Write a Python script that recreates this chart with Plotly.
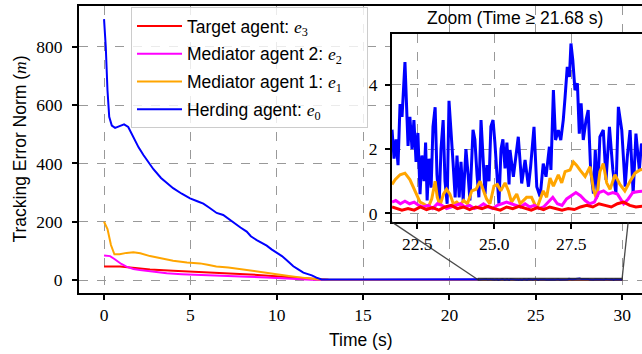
import plotly.graph_objects as go

# ---------------- data ----------------
# early phase (0 .. 21 s), coarse samples
t_herd_early = [0, 0.1, 0.2, 0.3, 0.45, 0.64, 0.9, 1.16, 1.4, 1.7, 2.0, 2.28, 2.6, 2.86, 3.3, 3.7, 4.0, 4.5,
                4.98, 5.4, 5.75, 6.1, 6.52, 6.9, 7.2, 7.49, 7.9, 8.26, 8.5, 8.84, 9.1, 9.42, 9.7, 10.0, 10.3,
                10.58, 10.96, 11.2, 11.54, 12.03, 12.3, 12.6, 13, 14, 15, 16, 17, 18, 19, 20, 21]
e0_early = [895, 800, 650, 560, 530, 522, 528, 534, 525, 490, 455, 429, 400, 380, 350, 330, 315, 296,
            280, 270, 262, 248, 230, 223, 210, 195, 180, 166, 150, 137, 128, 118, 105, 94, 82,
            68, 47, 38, 25, 16, 8, 2, 1.5, 2, 1.8, 2.2, 1.6, 2.5, 1.8, 2.0, 1.7]

t_med1_early = [0, 0.2, 0.4, 0.6, 0.9, 1.3, 1.7, 2.1, 2.66, 3.3, 4.0, 4.8, 5.56, 6.0, 6.5, 7.2, 7.87, 8.5,
                9.2, 10.0, 10.7, 11.35, 11.9, 12.3, 13, 15, 17, 19, 21]
e1_early = [200, 175, 120, 88, 88, 93, 95, 92, 82, 74, 66, 60, 57, 52, 46, 43, 37, 33,
            27, 20, 14, 9, 5, 2.5, 1.0, 0.9, 1.0, 0.8, 0.9]

t_med2_early = [0, 0.35, 0.6, 1.0, 1.3, 1.7, 2.08, 2.8, 3.63, 4.5, 5.56, 7, 8.3, 9.4, 10.4, 11.35, 12, 13,
                16, 19, 21]
e2_early = [84, 82, 72, 55, 46, 38, 34, 28, 23, 20, 17, 14, 11, 9, 5, 1.5, 0.5, 0.4, 0.35, 0.3, 0.35]

t_targ_early = [0, 0.93, 1.8, 2.66, 4.0, 5.56, 7.0, 8.45, 9.5, 10.4, 11.3, 12.3, 13, 16, 19, 21]
e3_early = [46, 46, 41, 36, 32, 28, 23, 19, 15, 11, 7, 2, 0.5, 0.2, 0.15, 0.2]

# late phase (zoom window, 21.68 .. 30 s)
t_herd_zoom = [21.68, 21.745, 21.81, 21.875, 21.94, 22.005, 22.10, 22.15, 22.20, 22.26, 22.33, 22.39, 22.46,
               22.52, 22.59, 22.65, 22.72, 22.77, 22.82, 22.88, 22.95, 23.01, 23.08, 23.14, 23.21, 23.27,
               23.34, 23.40, 23.47, 23.53, 23.60, 23.66, 23.73, 23.79, 23.86, 23.92, 23.99, 24.08, 24.15,
               24.21, 24.31, 24.37, 24.44, 24.50, 24.57, 24.63, 24.70, 24.76, 24.83, 24.89, 24.96, 25.02,
               25.09, 25.15, 25.22, 25.28, 25.35, 25.41, 25.48, 25.51, 25.62, 25.78, 25.89, 26.00, 26.11,
               26.18, 26.29, 26.38, 26.49, 26.59, 26.68, 26.79, 26.84, 26.92, 26.99, 27.08, 27.16, 27.24,
               27.30, 27.37, 27.44, 27.49, 27.55, 27.62, 27.70, 27.76, 27.82, 27.89, 27.98, 28.05, 28.13,
               28.22, 28.28, 28.35, 28.43, 28.54, 28.63, 28.74, 28.85, 28.95, 29.03, 29.14, 29.25, 29.32,
               29.41, 29.51, 29.60, 29.71, 29.78, 29.9, 30.0]
e0_zoom = [2.6, 1.7, 2.3, 1.5, 3.4, 3.0, 4.7, 3.2, 2.1, 3.0, 2.0, 2.9, 1.6,
           2.5, 0.6, 1.8, 1.0, 2.2, 0.4, 1.7, 0.8, 2.7, 3.3, 1.2, 0.3, 2.0,
           2.9, 1.0, 0.3, 3.5, 2.6, 1.6, 0.5, 1.8, 0.5, 1.6, 0.4, 2.0, 1.2,
           0.4, 2.6, 2.3, 1.2, 0.5, 2.9, 1.7, 0.6, 1.5, 1.0, 2.7, 2.9, 2.2,
           1.0, 0.3, 2.0, 2.3, 1.4, 2.2, 0.9, 1.97, 1.14, 2.38, 0.93, 1.66, 0.83,
           1.45, 2.69, 0.83, 0.52, 1.55, 1.14, 2.07, 1.35, 3.83, 2.28, 2.59, 2.28, 2.9,
           3.62, 4.55, 4.24, 5.28, 4.76, 3.83, 4.04, 2.48, 3.42, 2.28, 2.9, 3.21, 1.35,
           0.62, 1.97, 0.52, 2.38, 2.59, 1.04, 2.69, 1.35, 0.62, 3.31, 2.59, 0.83, 1.76,
           2.59, 0.62, 2.48, 1.35, 2.17, 1.5, 1.0]

t_med1_zoom = [21.68, 21.78, 21.94, 22.10, 22.26, 22.37, 22.48, 22.59, 22.70, 22.86, 22.97, 23.08, 23.15,
               23.24, 23.35, 23.45, 23.56, 23.67, 23.78, 23.89, 24.00, 24.13, 24.27, 24.41, 24.54, 24.64,
               24.75, 24.86, 24.99, 25.10, 25.21, 25.35, 25.46, 25.56, 25.73, 25.84, 26.05, 26.21, 26.38,
               26.59, 26.70, 26.81, 26.92, 27.08, 27.19, 27.30, 27.46, 27.57, 27.67, 27.78, 27.95, 28.11,
               28.22, 28.32, 28.43, 28.54, 28.65, 28.76, 28.92, 29.08, 29.24, 29.41, 29.57, 29.73, 30.0]
e1_zoom = [0.9, 1.05, 1.2, 1.25, 1.05, 0.8, 0.55, 0.35, 0.3, 0.2, 0.45, 1.0, 0.5,
           0.25, 0.6, 0.75, 0.6, 0.3, 0.35, 0.25, 0.4, 0.3, 0.7, 0.75, 1.0, 0.75,
           0.45, 0.3, 0.85, 0.9, 0.7, 0.95, 0.7, 0.35, 0.6, 0.3, 0.5, 0.5, 0.15,
           0.7, 0.5, 1.1, 0.85, 1.2, 0.95, 1.3, 1.35, 1.6, 1.5, 1.35, 1.15, 1.45,
           0.75, 0.45, 1.3, 1.55, 0.95, 0.75, 1.2, 0.9, 0.7, 1.0, 1.25, 1.35, 1.4]

t_med2_zoom = [21.68, 21.8, 21.95, 22.1, 22.25, 22.4, 22.55, 22.7, 22.85, 23.0, 23.15, 23.3, 23.45, 23.6,
               23.75, 23.9, 24.05, 24.2, 24.35, 24.5, 24.65, 24.8, 24.95, 25.1, 25.25, 25.4, 25.55, 25.7,
               25.85, 26.0, 26.15, 26.3, 26.45, 26.6, 26.75, 26.9, 27.05, 27.2, 27.35, 27.5, 27.65, 27.8,
               27.95, 28.1, 28.25, 28.4, 28.55, 28.7, 28.85, 29.0, 29.1, 29.2, 29.35, 29.5, 29.7, 30.0]
e2_zoom = [0.35, 0.4, 0.3, 0.38, 0.3, 0.35, 0.25, 0.2, 0.25, 0.15, 0.3, 0.25, 0.15, 0.2,
           0.25, 0.3, 0.2, 0.25, 0.15, 0.2, 0.3, 0.2, 0.15, 0.25, 0.3, 0.35, 0.3, 0.25,
           0.2, 0.3, 0.2, 0.25, 0.15, 0.2, 0.35, 0.5, 0.3, 0.25, 0.45, 0.55, 0.65, 0.55,
           0.4, 0.3, 0.35, 0.65, 0.7, 0.6, 0.65, 0.6, 0.45, 0.3, 0.45, 0.65, 0.68, 0.7]

t_targ_zoom = [21.68, 21.85, 22.0, 22.2, 22.4, 22.6, 22.8, 23.0, 23.2, 23.4, 23.6, 23.8, 24.0, 24.2, 24.4,
               24.6, 24.8, 25.0, 25.2, 25.4, 25.6, 25.8, 26.0, 26.2, 26.4, 26.6, 26.8, 27.0, 27.2, 27.4,
               27.6, 27.8, 28.0, 28.2, 28.4, 28.6, 28.8, 29.0, 29.2, 29.4, 29.6, 29.8, 30.0]
e3_zoom = [0.2, 0.15, 0.1, 0.15, 0.1, 0.2, 0.12, 0.18, 0.1, 0.2, 0.25, 0.15, 0.2, 0.12, 0.2,
           0.15, 0.22, 0.15, 0.1, 0.2, 0.15, 0.22, 0.15, 0.1, 0.18, 0.12, 0.2, 0.15, 0.1, 0.15,
           0.12, 0.2, 0.25, 0.2, 0.3, 0.25, 0.2, 0.3, 0.35, 0.25, 0.2, 0.22, 0.2]

names = ["Target agent: ", "Mediator agent 2: ", "Mediator agent 1: ", "Herding agent: "]
subs = ["3", "2", "1", "0"]
colors = ["#ff0000", "#ff00ff", "#ffa500", "#0000ff"]
zoom_start = 21.68
zoom_end = 30.0

series = [
    (t_targ_early, e3_early, t_targ_zoom, e3_zoom),
    (t_med2_early, e2_early, t_med2_zoom, e2_zoom),
    (t_med1_early, e1_early, t_med1_zoom, e1_zoom),
    (t_herd_early, e0_early, t_herd_zoom, e0_zoom),
]

# ---------------- layout geometry ----------------
W, H = 642, 354
ML, MR, MT, MB = 79, 0, 6, 61
PW, PH = W - ML - MR, H - MT - MB
xr = [-1.45, 31.15]
yr = [-44.6, 940]
dom_x2 = [0.556, 1.0]
dom_y2 = [0.247, 0.902]
xr2 = [zoom_start, 29.797]
yr2 = [-0.27, 5.57]

SERIF = "Liberation Serif"
SANS = "Liberation Sans"
FS = 17.5

fig = go.Figure()

for (te, ve, tz, vz), nm, sb, col in zip(series, names, subs, colors):
    label = (nm + '<span style="font-family:' + SERIF + '"><i>e</i><sub>' + sb + '</sub></span>'
             + '&nbsp;' * 4)
    fig.add_trace(go.Scatter(x=te + tz, y=ve + vz, mode="lines", name=label,
                             line=dict(color=col, width=2), xaxis="x", yaxis="y",
                             legendgroup=nm))

for (te, ve, tz, vz), nm, col in list(zip(series, names, colors))[::-1]:
    fig.add_trace(go.Scatter(x=tz, y=vz, mode="lines", showlegend=False,
                             line=dict(color=col, width=3), xaxis="x2", yaxis="y2"))

grid = dict(showgrid=True, gridcolor="#999999", griddash="dash", gridwidth=0.8, zeroline=False,
            automargin=False)
axline = dict(showline=True, linecolor="black", linewidth=2.2, ticks="outside", ticklen=5,
              tickwidth=1.6, tickcolor="black", tickfont=dict(family=SERIF, size=FS))

fig.update_layout(
    width=W, height=H,
    margin=dict(l=ML, r=MR, t=MT, b=MB, autoexpand=False),
    paper_bgcolor="white", plot_bgcolor="white",
    font=dict(family=SERIF, size=FS, color="black"),
    xaxis=dict(domain=[0, 1], range=xr, tickmode="array", tickvals=[0, 5, 10, 15, 20, 25, 30],
               mirror=True, **grid, **axline),
    yaxis=dict(domain=[0, 1], range=yr, tickmode="array", tickvals=[0, 200, 400, 600, 800],
               ticklabelstandoff=6, **grid, **axline),
    xaxis2=dict(domain=dom_x2, range=xr2, anchor="y2", tickmode="array", tickvals=[22.5, 25.0, 27.5],
                ticktext=["22.5", "25.0", "27.5"], mirror=True, **grid, **axline),
    yaxis2=dict(domain=dom_y2, range=yr2, anchor="x2", tickmode="array", tickvals=[0, 2, 4],
                ticklabelstandoff=4, **grid, **axline),
    legend=dict(x=(131 - ML) / PW, y=1 - (7 - MT) / PH, xanchor="left", yanchor="top",
                bgcolor="rgba(255,255,255,0.8)", bordercolor="#cccccc", borderwidth=1,
                font=dict(family=SANS, size=FS), itemwidth=45, tracegroupgap=2),
    showlegend=True,
)

# axis titles and inset title
fig.add_annotation(text="Time (s)", xref="paper", yref="paper", x=0.5, y=-(340 - (MT + PH)) / PH,
                   showarrow=False, font=dict(family=SANS, size=FS), xanchor="center", yanchor="middle")
fig.add_annotation(text='Tracking Error Norm (<span style="font-family:' + SERIF + '"><i>m</i></span>)',
                   xref="paper", yref="paper", x=(19 - ML) / PW, y=0.5, textangle=-90,
                   showarrow=False, font=dict(family=SANS, size=FS), xanchor="center", yanchor="middle")
fig.add_annotation(text="Zoom (Time ≥ 21.68 s)", xref="paper", yref="paper",
                   x=(514.5 - ML) / PW, y=((MT + PH) - 18) / PH, showarrow=False,
                   font=dict(family=SANS, size=FS), xanchor="center", yanchor="middle")

# zoom indicator: rectangle and connector lines (computed from the axis geometry)
def px_x(frac):
    return xr[0] + frac * (xr[1] - xr[0])

def px_y(frac):
    return yr[0] + frac * (yr[1] - yr[0])

edge = dict(color="rgba(40,40,40,0.85)", width=1.3)
fig.add_shape(type="rect", xref="x", yref="y", x0=zoom_start, x1=zoom_end, y0=yr2[0], y1=yr2[1],
              line=edge)
# lower-left connector
fig.add_shape(type="line", xref="x", yref="y", x0=zoom_start, y0=yr2[0],
              x1=px_x(dom_x2[0]), y1=px_y(dom_y2[0]), line=edge)
# upper-right connector (visible until it passes under the inset)
vr_frac = dom_x2[0] + (zoom_end - xr2[0]) / (xr2[1] - xr2[0]) * (dom_x2[1] - dom_x2[0])
P0 = (zoom_end, yr2[1])
P1 = (px_x(vr_frac), px_y(dom_y2[1]))
yb = px_y(dom_y2[0])
s = (yb - P0[1]) / (P1[1] - P0[1])
fig.add_shape(type="line", xref="x", yref="y", x0=P0[0], y0=P0[1],
              x1=P0[0] + s * (P1[0] - P0[0]), y1=yb, line=edge)

fig.write_html("out.html", config={"displayModeBar": False},
               post_script="document.body.style.margin='0px';document.body.style.overflow='hidden';")
